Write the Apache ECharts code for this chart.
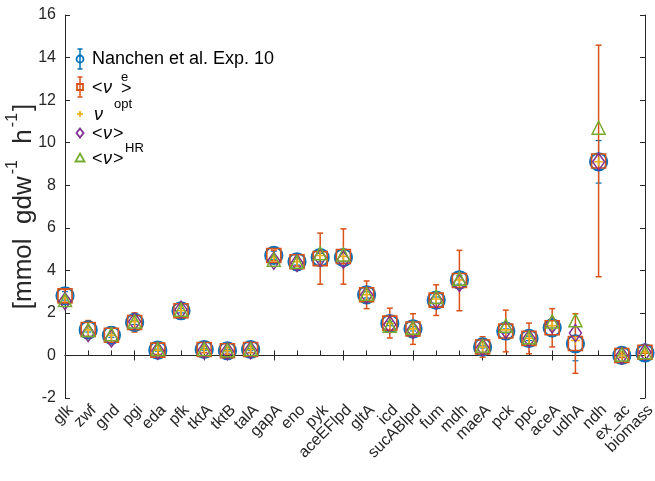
<!DOCTYPE html>
<html><head><meta charset="utf-8">
<script src="https://cdn.jsdelivr.net/npm/echarts@6/dist/echarts.min.js"></script>
<style>html,body{margin:0;padding:0;background:#fff}#c{width:655px;height:481px}</style>
</head><body><div id="c"></div>
<script>
const categories = ['glk','zwf','gnd','pgi','eda','pfk','tktA','tktB','talA','gapA','eno','pyk','aceEFlpd','gltA','icd','sucABlpd','fum','mdh','maeA','pck','ppc','aceA','udhA','ndh','ex_ac','biomass'];
const yTicks = [-2,0,2,4,6,8,10,12,14,16];
const nanchen    = [2.8,1.2,0.95,1.55,0.25,2.1,0.28,0.22,0.28,4.7,4.4,4.6,4.6,2.85,1.5,1.25,2.6,3.55,0.4,1.15,0.8,1.3,0.55,9.1,0.0,0.12];
const nanchenErr = [0.2,0.1,0.1,0.1,0.05,0.1,0.05,0.05,0.05,0.2,0.15,0.2,0.2,0.15,0.1,0.1,0.15,0.2,0.05,0.1,0.1,0.1,0.8,1.0,0.02,0.02];
const nuE        = [2.8,1.22,0.95,1.55,0.25,2.1,0.28,0.22,0.28,4.7,4.4,4.55,4.65,2.85,1.52,1.24,2.6,3.52,0.4,1.15,0.8,1.3,0.56,9.14,0.0,0.15];
const nuEErr     = [0.3,0.42,0.4,0.45,0.2,0.3,0.15,0.15,0.15,0.25,0.2,1.2,1.3,0.65,0.7,0.72,0.72,1.42,0.48,0.98,0.72,0.9,1.4,5.44,0.1,0.05];
const nuOpt      = [2.7,1.2,0.95,1.6,0.25,2.1,0.28,0.22,0.28,4.6,4.4,4.7,4.65,2.85,1.5,1.25,2.65,3.55,0.4,1.2,0.8,1.4,0.7,9.1,0.0,0.15];
const nuMean     = [2.55,1.05,0.8,1.6,0.22,2.15,0.25,0.2,0.25,4.45,4.35,4.6,4.5,2.85,1.45,1.2,2.6,3.4,0.38,1.2,0.8,1.45,1.05,9.1,0.0,0.15];
const nuHR       = [2.6,1.2,1.0,1.6,0.3,2.15,0.3,0.25,0.3,4.5,4.4,4.8,4.75,2.9,1.4,1.3,2.75,3.6,0.45,1.4,0.85,1.6,1.65,10.7,0.05,0.15];

const C = {blue:'#0072BD', orange:'#D95319', yellow:'#EDB120', purple:'#7E2F8E', green:'#77AC30'};
const FONT = 'Liberation Sans, Arial, Helvetica, sans-serif';
const TXT = '#262626';
const LF = '18px ' + FONT, LFI = 'italic 18px ' + FONT, LFS = '13px ' + FONT;

function errData(v, e){ return v.map((y,i)=>[i, y-e[i], y+e[i]]); }
function errSeries(v, e, color, lw){
  return {type:'custom', data: errData(v,e), silent:true, z:2,
    renderItem:function(params, api){
      const x = api.value(0);
      const p1 = api.coord([x, api.value(1)]);
      const p2 = api.coord([x, api.value(2)]);
      const w = 3;
      const st = {stroke: color, lineWidth: lw, fill: null};
      return {type:'group', children:[
        {type:'line', shape:{x1:p1[0],y1:p1[1],x2:p2[0],y2:p2[1]}, style:st},
        {type:'line', shape:{x1:p1[0]-w,y1:p1[1],x2:p1[0]+w,y2:p1[1]}, style:st},
        {type:'line', shape:{x1:p2[0]-w,y1:p2[1],x2:p2[0]+w,y2:p2[1]}, style:st}
      ]};
    }};
}
function hollow(v, symbol, size, color, lw){
  return {type:'scatter', data: v.map((y,i)=>[i,y]), symbol: symbol, symbolSize: size, silent:true, z:3,
    itemStyle:{color:'rgba(0,0,0,0)', borderColor: color, borderWidth: lw, opacity:1}};
}

const chart = echarts.init(document.getElementById('c'), null, {renderer:'canvas'});
const axisLine = {show:true, lineStyle:{color:TXT, width:1}};
const option = {
  animation:false,
  grid: {left:65, right:10, top:15, bottom:83, containLabel:false, outerBoundsMode:'none'},
  xAxis: [
    {type:'category', data: categories, boundaryGap:false, position:'bottom',
     axisLine: axisLine, axisTick:{show:true, inside:true, length:5, lineStyle:{color:TXT}},
     axisLabel:{rotate:45, fontSize:16, color:TXT, fontFamily:FONT, margin:4, interval:0, verticalAlign:'top'},
     splitLine:{show:false}},
    {type:'category', data: categories, boundaryGap:false, position:'top',
     axisLine: axisLine, axisTick:{show:true, inside:true, length:5, lineStyle:{color:TXT}},
     axisLabel:{show:false}, splitLine:{show:false}}
  ],
  yAxis: [
    {type:'value', min: yTicks[0], max: yTicks[yTicks.length-1], interval:2, position:'left',
     axisLine: axisLine, axisTick:{show:true, inside:true, length:5, lineStyle:{color:TXT}},
     axisLabel:{fontSize:16, color:TXT, fontFamily:FONT, margin:9},
     splitLine:{show:false},
     name:'{a|[mmol  gdw}{s|-1}{a|  h}{s|-1}{a|]}', nameLocation:'middle', nameGap:28, nameRotate:90,
     nameMoveOverlap:false,
     nameTextStyle:{color:TXT, fontFamily:FONT, fontSize:26,
       rich:{a:{fontSize:26, color:TXT, fontFamily:FONT, lineHeight:32, verticalAlign:'bottom'},
             s:{fontSize:16, color:TXT, fontFamily:FONT, lineHeight:32, verticalAlign:'top', padding:[0,2,0,2]}}}},
    {type:'value', min: yTicks[0], max: yTicks[yTicks.length-1], interval:2, position:'right',
     axisLine: axisLine, axisTick:{show:true, inside:true, length:5, lineStyle:{color:TXT}},
     axisLabel:{show:false}, splitLine:{show:false}}
  ],
  series: [
    errSeries(nanchen, nanchenErr, C.blue, 1.2),
    hollow(nanchen, 'circle', 17, C.blue, 2.2),
    errSeries(nuE, nuEErr, C.orange, 1.5),
    hollow(nuE, 'rect', 14, C.orange, 1.6),
    hollow(nuOpt, 'path://M5,0V10M0,5H10', 9, C.yellow, 1.6),
    hollow(nuMean, 'diamond', [12,17], C.purple, 1.5),
    hollow(nuHR, 'triangle', 13, C.green, 1.5)
  ],
  graphic: [
    {type:'group', children:[
      // legend row 1
      {type:'line', shape:{x1:80,y1:49,x2:80,y2:69}, style:{stroke:C.blue, lineWidth:1.5}},
      {type:'line', shape:{x1:77.5,y1:49,x2:82.5,y2:49}, style:{stroke:C.blue, lineWidth:1.5}},
      {type:'line', shape:{x1:77.5,y1:69,x2:82.5,y2:69}, style:{stroke:C.blue, lineWidth:1.5}},
      {type:'circle', shape:{cx:80, cy:59, r:3.5}, style:{stroke:C.blue, lineWidth:1.8, fill:null}},
      {type:'text', x:92, y:59, style:{text:'Nanchen et al. Exp. 10', font:LF, fill:'#000', verticalAlign:'middle'}},
      // row 2
      {type:'line', shape:{x1:80,y1:77,x2:80,y2:97}, style:{stroke:C.orange, lineWidth:1.5}},
      {type:'line', shape:{x1:77.5,y1:77,x2:82.5,y2:77}, style:{stroke:C.orange, lineWidth:1.5}},
      {type:'line', shape:{x1:77.5,y1:97,x2:82.5,y2:97}, style:{stroke:C.orange, lineWidth:1.5}},
      {type:'rect', shape:{x:77,y:84,width:6,height:6}, style:{stroke:C.orange, lineWidth:1.8, fill:null}},
      {type:'text', x:92, y:88, style:{text:'<', font:LF, fill:'#000', verticalAlign:'middle'}},
      {type:'text', x:103, y:88, style:{text:'ν', font:LFI, fill:'#000', verticalAlign:'middle'}},
      {type:'text', x:121, y:77, style:{text:'e', font:LFS, fill:'#000', verticalAlign:'middle'}},
      {type:'text', x:121, y:89, style:{text:'>', font:LF, fill:'#000', verticalAlign:'middle'}},
      // row 3
      {type:'line', shape:{x1:77,y1:114,x2:83,y2:114}, style:{stroke:C.yellow, lineWidth:1.8}},
      {type:'line', shape:{x1:80,y1:111,x2:80,y2:117}, style:{stroke:C.yellow, lineWidth:1.8}},
      {type:'text', x:94, y:115, style:{text:'ν', font:LFI, fill:'#000', verticalAlign:'middle'}},
      {type:'text', x:114, y:104, style:{text:'opt', font:LFS, fill:'#000', verticalAlign:'middle'}},
      // row 4
      {type:'polygon', shape:{points:[[80,128.5],[83.5,133],[80,137.5],[76.5,133]]}, style:{stroke:C.purple, lineWidth:1.8, fill:null}},
      {type:'text', x:92, y:134, style:{text:'<', font:LF, fill:'#000', verticalAlign:'middle'}},
      {type:'text', x:103, y:134, style:{text:'ν', font:LFI, fill:'#000', verticalAlign:'middle'}},
      {type:'text', x:113, y:134, style:{text:'>', font:LF, fill:'#000', verticalAlign:'middle'}},
      // row 5
      {type:'polygon', shape:{points:[[80,153.5],[84.5,161.5],[75.5,161.5]]}, style:{stroke:C.green, lineWidth:1.8, fill:null}},
      {type:'text', x:92, y:159, style:{text:'<', font:LF, fill:'#000', verticalAlign:'middle'}},
      {type:'text', x:103, y:159, style:{text:'ν', font:LFI, fill:'#000', verticalAlign:'middle'}},
      {type:'text', x:113, y:159, style:{text:'>', font:LF, fill:'#000', verticalAlign:'middle'}},
      {type:'text', x:125, y:148, style:{text:'HR', font:LFS, fill:'#000', verticalAlign:'middle'}}
    ]}
  ]
};
chart.setOption(option);
</script>
</body></html>
